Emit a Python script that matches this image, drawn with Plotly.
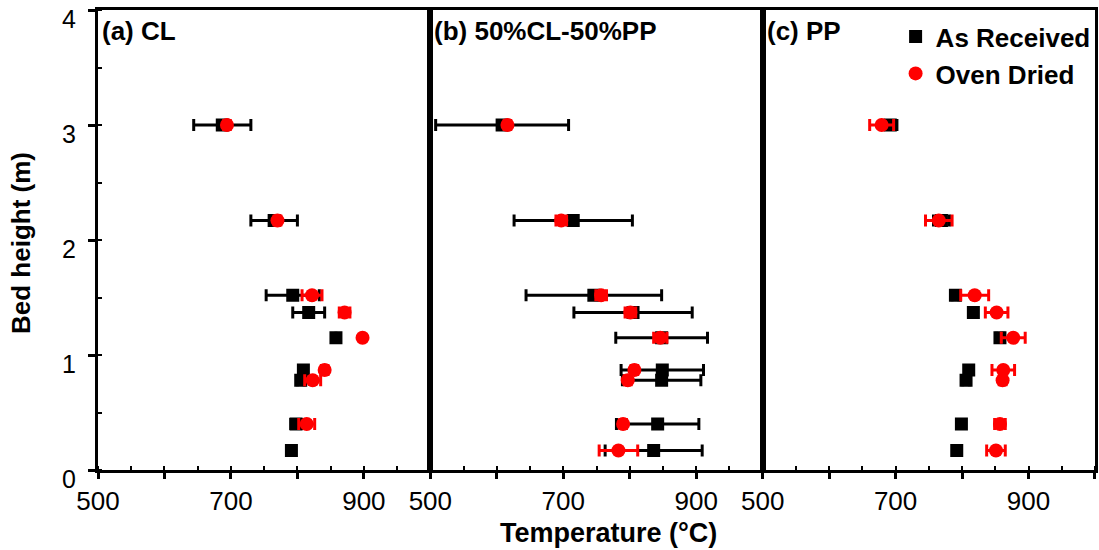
import plotly.graph_objects as go

heights = [0.17, 0.40, 0.78, 0.87, 1.15, 1.37, 1.52, 2.17, 3.00]

# (a) CL
cl_ar = [791, 798, 805, 809, 858, 817, 793, 765, 687]
cl_ar_err = [5, 8, 5, 5, 0, 24, 40, 35, 43]
cl_od = [None, 814, 823, 841, 898, 871, 822, 770, 694]
cl_od_err = [0, 12, 12, 5, 0, 8, 15, 5, 5]

# (b) 50%CL-50%PP
mix_ar = [836, 842, 848, 849, 848, 805, 746, 715, 608]
mix_ar_err = [73, 62, 59, 62, 69, 89, 102, 89, 100]
mix_od = [783, 790, 797, 807, 846, 801, 757, 697, 616]
mix_od_err = [29, 5, 5, 5, 10, 8, 8, 8, 5]

# (c) PP
pp_ar = [792, 799, 806, 810, 857, 817, 790, 769, 692]
pp_ar_err = [5, 3, 5, 5, 5, 5, 5, 12, 10]
pp_od = [851, 857, 861, 862, 877, 852, 819, 765, 679]
pp_od_err = [14, 8, 5, 17, 18, 17, 21, 20, 18]

panel_titles = ["(a) CL", "(b) 50%CL-50%PP", "(c) PP"]
series_names = ["As Received", "Oven Dried"]
x_tickvals = [500, 600, 700, 800, 900, 1000]
x_ticktext = ["500", "", "700", "", "900", ""]
y_tickvals = [0, 1, 2, 3, 4]

FONT = "Liberation Sans, Arial, sans-serif"
panels = [
    (cl_ar, cl_ar_err, cl_od, cl_od_err),
    (mix_ar, mix_ar_err, mix_od, mix_od_err),
    (pp_ar, pp_ar_err, pp_od, pp_od_err),
]

fig = go.Figure()
for i, (ar, ar_e, od, od_e) in enumerate(panels):
    xa = "x" if i == 0 else f"x{i+1}"
    ya = "y" if i == 0 else f"y{i+1}"
    fig.add_trace(go.Scatter(
        x=ar, y=heights, mode="markers", name=series_names[0],
        showlegend=(i == 2), xaxis=xa, yaxis=ya,
        marker=dict(symbol="square", size=13, color="black"),
        error_x=dict(type="data", array=ar_e, color="black", thickness=3, width=6),
    ))
for i, (ar, ar_e, od, od_e) in enumerate(panels):
    xa = "x" if i == 0 else f"x{i+1}"
    ya = "y" if i == 0 else f"y{i+1}"
    fig.add_trace(go.Scatter(
        x=od, y=heights, mode="markers", name=series_names[1],
        showlegend=(i == 2), xaxis=xa, yaxis=ya,
        marker=dict(symbol="circle", size=14, color="red"),
        error_x=dict(type="data", array=od_e, color="red", thickness=3, width=6),
    ))

domains = [[0, 1/3], [1/3, 2/3], [2/3, 1]]
for i in range(3):
    k = "" if i == 0 else str(i + 1)
    fig.layout["xaxis" + k] = dict(
        domain=domains[i], anchor="y" + k, range=[500, 1000],
        tickvals=x_tickvals, ticktext=x_ticktext,
        ticks="outside", ticklen=6, tickwidth=3, tickcolor="black",
        minor=dict(dtick=50, tick0=500, ticks="inside", ticklen=4, tickwidth=2, tickcolor="black"),
        showline=True, linewidth=3, linecolor="black", mirror=True,
        showgrid=False, zeroline=False,
        tickfont=dict(family=FONT, size=26, color="black"),
    )
    ydict = dict(
        domain=[0, 1], anchor="x" + k, range=[0, 4],
        showline=True, linewidth=3, linecolor="black", mirror=True,
        showgrid=False, zeroline=False,
    )
    if i == 0:
        ydict.update(
            tickvals=y_tickvals, ticks="outside", ticklen=7, tickwidth=3, tickcolor="black",
            minor=dict(dtick=0.5, tick0=0, ticks="inside", ticklen=4, tickwidth=2, tickcolor="black"),
            tickfont=dict(family=FONT, size=25, color="black"),
            ticklabelshift=9, ticklabelstandoff=7, ticklabeloverflow="allow",
        )
    else:
        ydict.update(matches="y", showticklabels=False, ticks="")
    fig.layout["yaxis" + k] = ydict
    fig.add_annotation(
        text="<b>" + panel_titles[i] + "</b>", xref=f"x{k} domain", yref=f"y{k} domain",
        x=0, y=1, xanchor="left", yanchor="top", xshift=2, yshift=-4, showarrow=False,
        font=dict(family=FONT, size=26, color="black"),
    )

fig.add_annotation(
    text="<b>Temperature (°C)</b>", xref="paper", yref="paper",
    x=0.512, y=-0.138, xanchor="center", yanchor="middle", showarrow=False,
    font=dict(family=FONT, size=27, color="black"),
)
fig.add_annotation(
    text="<b>Bed height (m)</b>", xref="paper", yref="paper", textangle=-90,
    x=-0.077, y=0.494, xanchor="center", yanchor="middle", showarrow=False,
    font=dict(family=FONT, size=26, color="black"),
)

fig.update_layout(
    width=1099, height=550,
    margin=dict(l=98, r=1, t=10, b=80),
    plot_bgcolor="white", paper_bgcolor="white",
    legend=dict(x=0.8, y=0.993, xanchor="left", yanchor="top",
                font=dict(family=FONT, size=26, color="black", weight="bold"),
                bgcolor="rgba(0,0,0,0)", tracegroupgap=0),
)

fig.write_html("out.html")
